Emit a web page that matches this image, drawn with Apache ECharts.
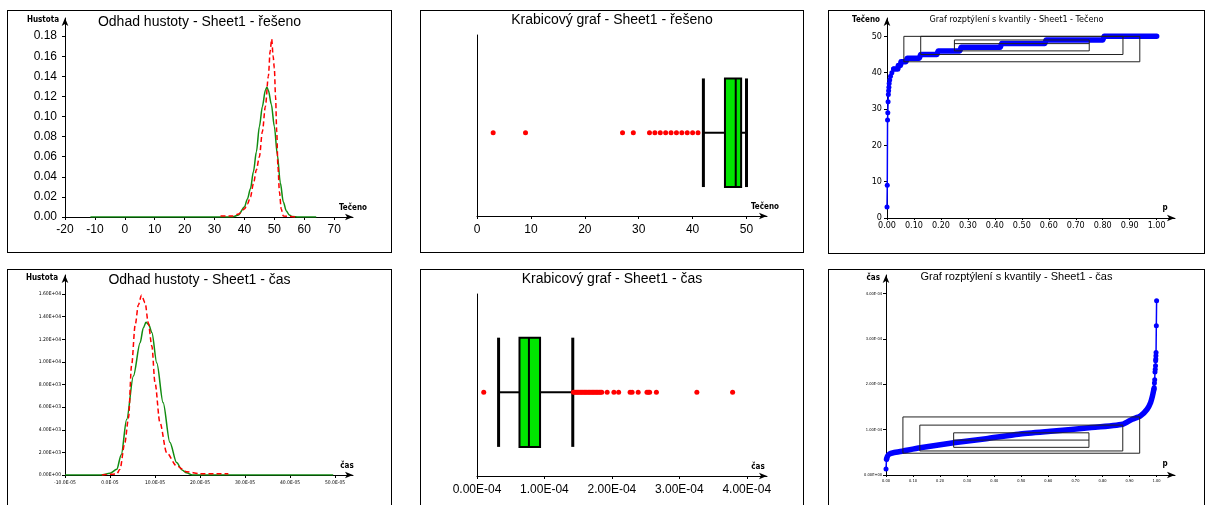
<!DOCTYPE html>
<html>
<head>
<meta charset="utf-8">
<script src="https://cdn.jsdelivr.net/npm/echarts@6/dist/echarts.min.js"></script>
<style>
  html, body { margin: 0; padding: 0; background: #fff; width: 1205px; height: 505px; overflow: hidden; }
  .panel { position: absolute; box-sizing: border-box; border: 1px solid #000; background: #fff; }
  .panel > div { width: 100%; height: 100%; }
</style>
</head>
<body>
<div class="panel" style="left:7px;top:10px;width:385px;height:243px"><div id="tl"></div></div>
<div class="panel" style="left:420px;top:10px;width:384px;height:243px"><div id="tm"></div></div>
<div class="panel" style="left:828px;top:10px;width:377px;height:244px"><div id="tr"></div></div>
<div class="panel" style="left:7px;top:269px;width:385px;height:250px"><div id="bl"></div></div>
<div class="panel" style="left:420px;top:269px;width:384px;height:250px"><div id="bm"></div></div>
<div class="panel" style="left:828px;top:269px;width:377px;height:250px"><div id="br"></div></div>
<script>
// --- řešeno: density estimate (green = normal, red dashed = kernel)
const resX = [-11.5, 30, 36, 38, 40, 41, 42, 43, 44, 45, 46, 47, 47.5, 48, 49, 50, 51, 52, 53, 54, 55, 56, 58, 64];
const resNormal = [0, 0, 0, 0.002, 0.01, 0.018, 0.028, 0.045, 0.065, 0.09, 0.11, 0.126, 0.129, 0.126, 0.112, 0.09, 0.062, 0.034, 0.015, 0.006, 0.002, 0.0005, 0, 0];
const resKdeX = [32, 36, 38, 40, 41, 42, 43, 44, 45, 46, 47, 48, 48.6, 49.1, 49.6, 50, 50.4, 50.8, 51.2, 51.7, 52.3, 53, 57];
const resKde = [0.001, 0.001, 0.003, 0.008, 0.013, 0.02, 0.033, 0.047, 0.06, 0.085, 0.11, 0.14, 0.165, 0.177, 0.16, 0.148, 0.12, 0.085, 0.05, 0.025, 0.008, 0.001, 0];
const resDensXTicks = [-20, -10, 0, 10, 20, 30, 40, 50, 60, 70];
const resDensYTicks = [0, 0.02, 0.04, 0.06, 0.08, 0.1, 0.12, 0.14, 0.16, 0.18];

// --- řešeno: box plot [min, Q1, median, Q3, max] + outliers
const resBox = [42, 46, 48, 49, 50];
const resOut = [3, 9, 27, 29, 32, 33, 34, 35, 36, 37, 38, 39, 40, 41];
const resBoxTicks = [0, 10, 20, 30, 40, 50];

// --- řešeno: quantile plot
const resQLow = [[0, 3], [0.001, 9], [0.002, 27], [0.003, 29], [0.004, 32], [0.005, 34], [0.006, 35], [0.007, 36], [0.008, 37], [0.01, 38], [0.013, 39], [0.018, 40], [0.025, 41]];
const resQStep = [[0.025, 41], [0.04, 41], [0.042, 42], [0.05, 42], [0.052, 43], [0.07, 43], [0.075, 44], [0.12, 44], [0.125, 45], [0.185, 45], [0.19, 46], [0.27, 46], [0.275, 47], [0.42, 47], [0.425, 48], [0.585, 48], [0.59, 49], [0.8, 49], [0.805, 50], [1.0, 50]];
const resQBoxes = [[0.0625, 0.9375, 43, 50], [0.125, 0.875, 45, 50], [0.25, 0.75, 46, 49]];
const resQMed = [[0.25, 0.75, 48]];
const resQYTicks = [0, 10, 20, 30, 40, 50];
const pTicks = [0, 0.1, 0.2, 0.3, 0.4, 0.5, 0.6, 0.7, 0.8, 0.9, 1.0];

// --- čas: density estimate (x in 1E-05 units)
const casX = [-10, -2, 0, 1.5, 2.5, 3.7, 5.2, 6.7, 7.4, 8.0, 8.6, 9.3, 10.4, 11.8, 13.3, 14.8, 16, 17, 18.3, 49.6];
const casNormal = [0, 0, 150, 500, 1800, 4900, 8750, 11700, 13000, 13500, 13300, 12600, 9900, 6400, 2900, 1100, 450, 200, 0, 0];
const casKdeX = [-1.8, 1.5, 2.2, 3.3, 4.1, 4.8, 5.6, 6.3, 7.0, 7.8, 8.5, 9.3, 10.0, 11.1, 12.6, 14.8, 17, 20, 26.3];
const casKde = [0, 100, 500, 2860, 5000, 9700, 13260, 15030, 15890, 15230, 13460, 11400, 8160, 4620, 1970, 800, 290, 120, 120];
const casDensXTicks = [-10, 0, 10, 20, 30, 40, 50];
const casDensYTicks = [0, 2000, 4000, 6000, 8000, 10000, 12000, 14000, 16000];

// --- čas: box plot (1E-04 units)
const casBox = [0.32, 0.63, 0.77, 0.935, 1.42];
const casOut = [0.10, 1.43, 1.45, 1.47, 1.49, 1.51, 1.53, 1.55, 1.57, 1.59, 1.61, 1.63, 1.65, 1.67, 1.69, 1.71, 1.73, 1.75, 1.77, 1.79, 1.81, 1.83, 1.85, 1.93, 2.03, 2.10, 2.27, 2.30, 2.39, 2.52, 2.54, 2.56, 2.66, 3.26, 3.79];
const casBoxTicks = [0, 1, 2, 3, 4];

// --- čas: quantile plot (1E-04 units)
const casQ = [[0.002, 0.35], [0.006, 0.42], [0.012, 0.46], [0.027, 0.49], [0.064, 0.53], [0.126, 0.6], [0.25, 0.71], [0.37, 0.8], [0.49, 0.9], [0.62, 0.97], [0.75, 1.04], [0.875, 1.12], [0.91, 1.23], [0.94, 1.3], [0.965, 1.45], [0.978, 1.6], [0.985, 1.75], [0.99, 1.89]];
const casQEnds = [[0, 0.13], [0.002, 0.35]];
const casQTail = [[0.99, 1.89], [0.991, 1.93], [0.992, 2.03], [0.993, 2.1], [0.994, 2.27], [0.995, 2.33], [0.996, 2.41], [0.9965, 2.52], [0.997, 2.56], [0.9975, 2.63], [0.998, 2.7], [0.999, 3.29], [1.0, 3.84]];
const casQBoxes = [[0.0625, 0.9375, 0.48, 1.28], [0.125, 0.875, 0.53, 1.1], [0.25, 0.75, 0.61, 0.93]];
const casQMed = [[0.25, 0.75, 0.77]];
const casQYTicks = [0, 1, 2, 3, 4];

const FONT = "'Liberation Sans', Arial, sans-serif";
const NARROW = "'Liberation Sans Narrow', 'DejaVu Sans Condensed', 'Liberation Sans', sans-serif";
const RED = '#ff0000', GREEN = '#118c11', BLUE = '#0000ff';
const BOX_Y = 0.46, BOX_H = 0.6;

const pairs = (xs, ys) => xs.map((x, i) => [x, ys[i]]);
function sci(v) {
  if (v === 0) return '0.00E+00';
  const [m, e] = v.toExponential(2).split('e');
  const n = Math.abs(+e);
  return m + 'E' + (+e < 0 ? '-' : '+') + (n < 10 ? '0' + n : n);
}

function axis(c) {
  const hasTicks = !!c.ticks;
  return {
    type: 'value', min: c.min, max: c.max,
    splitLine: { show: false },
    axisLine: {
      show: true, onZero: false,
      lineStyle: { color: '#000', width: 1 },
      symbol: c.arrow === false ? 'none' : ['none', 'arrow'],
      symbolSize: [5, 8]
    },
    axisTick: hasTicks ? { show: true, length: c.tickLen || 3, customValues: c.ticks, lineStyle: { color: '#000' } } : { show: false },
    axisLabel: hasTicks ? {
      show: true, customValues: c.ticks, formatter: c.fmt,
      fontSize: c.fontSize || 12, fontFamily: c.font || FONT, color: '#000', margin: c.margin || 8
    } : { show: false },
    name: c.name || '',
    nameLocation: 'end',
    nameGap: c.nameGap || 0,
    nameTextStyle: c.nameStyle || {}
  };
}
const yName = (pad) => ({ fontSize: 8, fontWeight: 'bold', fontFamily: NARROW, color: '#000', align: 'right', verticalAlign: 'middle', padding: [0, pad, 0, 0] });
const xName = (pad) => ({ fontSize: 8, fontWeight: 'bold', fontFamily: NARROW, color: '#000', align: 'center', verticalAlign: 'bottom', padding: [0, 0, pad, 0] });
const title = (text, top, size, font) => ({
  text, left: 'center', top, padding: 0,
  textStyle: { fontSize: size, fontWeight: 'normal', fontFamily: font, color: '#000' }
});
const grid = (left, top, width, height) => ({ left, top, width, height, containLabel: false, outerBoundsMode: 'none' });

function renderBox(params, api) {
  const y = api.value(5);
  const lo = api.coord([api.value(0), y]);
  const q1 = api.coord([api.value(1), y]);
  const md = api.coord([api.value(2), y]);
  const q3 = api.coord([api.value(3), y]);
  const hi = api.coord([api.value(4), y]);
  const h = api.size([0, BOX_H])[1];
  const cy = lo[1], t = cy - h / 2, b = cy + h / 2;
  const ln = (x1, y1, x2, y2, w) => ({ type: 'line', shape: { x1, y1, x2, y2 }, style: { stroke: '#000', lineWidth: w } });
  return {
    type: 'group', children: [
      ln(lo[0], cy, q1[0], cy, 2),
      ln(q3[0], cy, hi[0], cy, 2),
      ln(lo[0], t, lo[0], b, 3),
      ln(hi[0], t, hi[0], b, 3),
      { type: 'rect', shape: { x: q1[0], y: t, width: q3[0] - q1[0], height: h }, style: { fill: '#00e600', stroke: '#000', lineWidth: 2 } },
      ln(md[0], t, md[0], b, 2)
    ]
  };
}
function renderQBox(params, api) {
  const a = api.coord([api.value(0), api.value(3)]);
  const b = api.coord([api.value(1), api.value(2)]);
  return { type: 'rect', shape: { x: a[0], y: a[1], width: b[0] - a[0], height: b[1] - a[1] }, style: { fill: 'none', stroke: '#222', lineWidth: 1 } };
}
function renderQMed(params, api) {
  const a = api.coord([api.value(0), api.value(2)]);
  const b = api.coord([api.value(1), api.value(2)]);
  return { type: 'line', shape: { x1: a[0], y1: a[1], x2: b[0], y2: b[1] }, style: { stroke: '#222', lineWidth: 1 } };
}

const densLine = (data, color, dashed) => ({
  type: 'line', data, symbol: 'none', smooth: 0.3, smoothMonotone: 'x',
  lineStyle: { color, width: 1.5, type: dashed ? [5, 3] : 'solid' }
});
const boxSeries = (box, out) => ([
  { type: 'custom', renderItem: renderBox, data: [[...box, BOX_Y]], encode: { x: [0, 1, 2, 3, 4], y: 5 }, z: 2 },
  { type: 'scatter', data: out.map(v => [v, BOX_Y]), symbolSize: 5, itemStyle: { color: RED, opacity: 1 }, z: 3 }
]);
const quantSeries = (boxes, med) => ([
  { type: 'custom', renderItem: renderQBox, data: boxes, encode: { x: [0, 1], y: [2, 3] }, z: 5 },
  { type: 'custom', renderItem: renderQMed, data: med, encode: { x: [0, 1], y: 2 }, z: 5 }
]);

const options = {
  tl: {
    title: title('Odhad hustoty - Sheet1 - řešeno', 4, 14, FONT),
    grid: grid(57, 7, 288, 199),
    xAxis: axis({ min: -20, max: 76.3, ticks: resDensXTicks, fmt: v => String(v), margin: 7,
      name: 'Tečeno', nameStyle: xName(5) }),
    yAxis: axis({ min: 0, max: 0.198, ticks: resDensYTicks, fmt: v => v.toFixed(2), margin: 8,
      name: 'Hustota', nameGap: -2, nameStyle: yName(6) }),
    series: [densLine(pairs(resX, resNormal), GREEN, false), densLine(pairs(resKdeX, resKde), RED, true)]
  },
  tm: {
    title: title('Krabicový graf - Sheet1 - řešeno', 2, 14, FONT),
    grid: grid(56, 24, 290, 181),
    xAxis: axis({ min: 0, max: 53.8, ticks: resBoxTicks, fmt: v => String(v), margin: 8, tickLen: 0,
      name: 'Tečeno', nameGap: -2, nameStyle: xName(5) }),
    yAxis: axis({ min: 0, max: 1, arrow: false }),
    series: boxSeries(resBox, resOut)
  },
  tr: {
    title: title('Graf rozptýlení s kvantily - Sheet1 - Tečeno', 4, 9, NARROW),
    grid: grid(58, 7, 288, 200),
    xAxis: axis({ min: 0, max: 1.068, ticks: pTicks, fmt: v => v.toFixed(2), margin: 3, tickLen: 2,
      fontSize: 9, font: NARROW, name: 'p', nameGap: -10, nameStyle: xName(6) }),
    yAxis: axis({ min: 0, max: 55.05, ticks: resQYTicks, fmt: v => String(v), margin: 5, tickLen: 3,
      fontSize: 9, font: NARROW, name: 'Tečeno', nameGap: -2, nameStyle: yName(7) }),
    series: [
      { type: 'line', data: resQLow, symbol: 'circle', symbolSize: 5, showAllSymbol: true,
        lineStyle: { color: BLUE, width: 1.5 }, itemStyle: { color: BLUE } },
      { type: 'line', data: resQStep, symbol: 'none', lineStyle: { color: BLUE, width: 5.5, cap: 'round', join: 'round' } },
      ...quantSeries(resQBoxes, resQMed)
    ]
  },
  bl: {
    title: title('Odhad hustoty - Sheet1 - čas', 3, 14, FONT),
    grid: grid(57, 5, 288, 200),
    xAxis: axis({ min: -10, max: 54, ticks: casDensXTicks, fmt: v => v.toFixed(1) + 'E-05', margin: 5,
      fontSize: 5, font: NARROW, name: 'čas', nameGap: -6, nameStyle: xName(5) }),
    yAxis: axis({ min: 0, max: 17680, ticks: casDensYTicks, fmt: sci, margin: 4,
      fontSize: 5, font: NARROW, name: 'Hustota', nameGap: -3, nameStyle: yName(7) }),
    series: [densLine(pairs(casX, casNormal), GREEN, false), densLine(pairs(casKdeX, casKde), RED, true)]
  },
  bm: {
    title: title('Krabicový graf - Sheet1 - čas', 2, 14, FONT),
    grid: grid(56, 24, 290, 182),
    xAxis: axis({ min: 0, max: 4.3, ticks: casBoxTicks, fmt: v => v.toFixed(2) + 'E-04', margin: 8, tickLen: 0,
      name: 'čas', nameGap: -9, nameStyle: xName(5) }),
    yAxis: axis({ min: 0, max: 1, arrow: false }),
    series: boxSeries(casBox, casOut)
  },
  br: {
    title: title('Graf rozptýlení s kvantily - Sheet1 - čas', 1, 11, FONT),
    grid: grid(57, 5, 289, 200),
    xAxis: axis({ min: 0, max: 1.068, ticks: pTicks, fmt: v => v.toFixed(2), margin: 4, tickLen: 2,
      fontSize: 4, font: NARROW, name: 'p', nameGap: -10, nameStyle: xName(7) }),
    yAxis: axis({ min: 0, max: 4.41, ticks: casQYTicks, fmt: v => v === 0 ? '0.00E+00' : v.toFixed(2) + 'E-04', margin: 4,
      fontSize: 4, font: NARROW, name: 'čas', nameGap: -3, nameStyle: yName(6) }),
    series: [
      { type: 'line', data: casQEnds, symbol: 'circle', symbolSize: 5, lineStyle: { color: BLUE, width: 1.5 }, itemStyle: { color: BLUE } },
      { type: 'line', data: casQ, symbol: 'none', smooth: 0.2, lineStyle: { color: BLUE, width: 5.5, cap: 'round', join: 'round' } },
      { type: 'line', data: casQTail, symbol: 'circle', symbolSize: 5, showAllSymbol: true,
        lineStyle: { color: BLUE, width: 1.5 }, itemStyle: { color: BLUE } },
      ...quantSeries(casQBoxes, casQMed)
    ]
  }
};

Object.keys(options).forEach(id => {
  const chart = echarts.init(document.getElementById(id), null, { renderer: 'canvas' });
  chart.setOption(Object.assign({ animation: false, backgroundColor: '#fff' }, options[id]));
});
</script>
</body>
</html>
